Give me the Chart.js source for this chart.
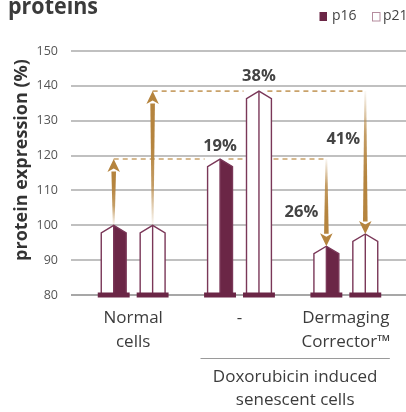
<!DOCTYPE html>
<html>
<head>
<meta charset="utf-8">
<script src="https://cdn.jsdelivr.net/npm/chart.js@4.4.1/dist/chart.umd.min.js"></script>
<style>
  html, body { margin: 0; padding: 0; background: #fff; overflow: hidden; }
  #wrap { width: 406px; height: 412px; }
</style>
</head>
<body>
<div id="wrap"><canvas id="chart" width="406" height="412"></canvas></div>
<script>
// ── Data ─────────────────────────────────────────────────────
const groups = [['Normal', 'cells'], '-', ['Dermaging', 'Corrector™']];
const seriesNames = ['p16', 'p21'];
const p16 = [100, 119, 94];
const p21 = [100, 138.5, 97.5];
const yTicks = [80, 90, 100, 110, 120, 130, 140, 150];
const changes = ['19%', '38%', '26%', '41%'];
const bracketLabel = ['Doxorubicin induced', 'senescent cells'];
const yTitle = 'protein expression (%)';
const chartTitle = 'proteins';

// ── Styles ───────────────────────────────────────────────────
const maroon = '#6b2646';
const edge = '#7a3758';
const gold = '181,132,62';
const txt = '#3c3c3c';
const FONT = '"Open Sans", sans-serif';

function barShape(ctx, x, top, base, w, filled) {
  const l = x - w / 2, r = x + w / 2, sh = top + 7.5;
  const outline = () => {
    ctx.beginPath();
    ctx.moveTo(l, base); ctx.lineTo(l, sh); ctx.lineTo(x, top);
    ctx.lineTo(r, sh); ctx.lineTo(r, base); ctx.closePath();
  };
  outline(); ctx.fillStyle = '#fff'; ctx.fill();
  if (filled) {
    ctx.beginPath();
    ctx.moveTo(x, top); ctx.lineTo(r, sh); ctx.lineTo(r, base); ctx.lineTo(x, base); ctx.closePath();
    ctx.fillStyle = maroon; ctx.fill();
  }
  ctx.strokeStyle = edge; ctx.lineWidth = 1.4;
  outline(); ctx.stroke();
  ctx.beginPath(); ctx.moveTo(x, top); ctx.lineTo(x, base); ctx.stroke();
  // foot
  ctx.fillStyle = maroon;
  ctx.fillRect(l - 3.5, base - 2.5, w + 7, 5);
}

function arrow(ctx, x, from, to) {
  const dir = to < from ? -1 : 1;
  const headH = 12.5, headW = 12.5;
  const neck = to - dir * headH;
  const g = ctx.createLinearGradient(0, from, 0, to);
  g.addColorStop(0, 'rgba(' + gold + ',0.05)');
  g.addColorStop(0.3, 'rgba(' + gold + ',0.8)');
  g.addColorStop(0.6, 'rgba(' + gold + ',1)');
  g.addColorStop(1, 'rgba(' + gold + ',1)');
  ctx.fillStyle = g;
  ctx.beginPath();
  ctx.moveTo(x - 0.9, from); ctx.lineTo(x + 0.9, from);
  ctx.lineTo(x + 2.3, neck); ctx.lineTo(x - 2.3, neck); ctx.closePath();
  ctx.fill();
  ctx.beginPath();
  ctx.moveTo(x, to);
  ctx.lineTo(x + headW / 2, neck - dir * 0.5);
  ctx.lineTo(x, neck + dir * 3);
  ctx.lineTo(x - headW / 2, neck - dir * 0.5);
  ctx.closePath();
  ctx.fillStyle = 'rgb(' + gold + ')';
  ctx.fill();
}

function dashed(ctx, x0, x1, y) {
  ctx.save();
  ctx.setLineDash([5, 4]);
  ctx.strokeStyle = '#c9a26b';
  ctx.lineWidth = 1.6;
  ctx.beginPath(); ctx.moveTo(x0, y); ctx.lineTo(x1, y); ctx.stroke();
  ctx.restore();
}

// ── Plugin: grid, shapes, annotations ────────────────────────
const decor = {
  id: 'decor',
  beforeDatasetsDraw(chart) {
    const ctx = chart.ctx, ys = chart.scales.y;
    ctx.save();
    yTicks.forEach(v => {
      const y = Math.round(ys.getPixelForValue(v));
      ctx.strokeStyle = v === yTicks[0] ? '#8a8a8a' : '#ababab';
      ctx.lineWidth = 1.4;
      ctx.beginPath(); ctx.moveTo(71, y); ctx.lineTo(406, y); ctx.stroke();
    });
    ctx.restore();
  },
  afterDatasetsDraw(chart) {
    const ctx = chart.ctx, ys = chart.scales.y, xs = chart.scales.x;
    const base = ys.getPixelForValue(ys.min);
    const bar = (d, i) => chart.getDatasetMeta(d).data[i];
    ctx.save();

    // dashed reference lines at the "-" level
    [p16, p21].forEach((vals, d) => {
      const y = ys.getPixelForValue(vals[1]);
      const b = bar(d, 1);
      dashed(ctx, bar(d, 0).x, b.x - b.width / 2 - 3, y);
      dashed(ctx, b.x + b.width / 2 - 4, bar(d, 2).x, y);
    });

    // bars
    [p16, p21].forEach((vals, d) => {
      chart.getDatasetMeta(d).data.forEach(el => {
        barShape(ctx, el.x, el.y, base, el.width, d === 0);
      });
    });

    // arrows
    [p16, p21].forEach((vals, d) => {
      arrow(ctx, bar(d, 0).x, ys.getPixelForValue(vals[0]), ys.getPixelForValue(vals[1]));
      arrow(ctx, bar(d, 2).x, ys.getPixelForValue(vals[1]), ys.getPixelForValue(vals[2]));
    });

    // percent labels
    ctx.font = 'bold 16.5px ' + FONT;
    ctx.fillStyle = '#444';
    ctx.textAlign = 'center';
    ctx.textBaseline = 'middle';
    ctx.fillText(changes[0], bar(0, 1).x, bar(0, 1).y - 13);
    ctx.fillText(changes[1], bar(1, 1).x, bar(1, 1).y - 15);
    ctx.fillText(changes[2], bar(0, 2).x - 25, bar(0, 2).y - 34);
    ctx.fillText(changes[3], bar(1, 2).x - 22, ys.getPixelForValue(p21[1]) + 48);

    // bracket under the treated groups
    const bl = xs.getPixelForValue(1) - 39, br = xs.getPixelForValue(2) + 44;
    ctx.strokeStyle = '#9a9a9a'; ctx.lineWidth = 1;
    ctx.beginPath(); ctx.moveTo(bl, 358.5); ctx.lineTo(br, 358.5); ctx.stroke();
    ctx.font = '17px ' + FONT;
    ctx.fillStyle = txt;
    bracketLabel.forEach((s, i) => ctx.fillText(s, (bl + br) / 2, 377 + i * 23.5));

    // y title
    ctx.save();
    ctx.translate(27, 160);
    ctx.rotate(-Math.PI / 2);
    ctx.font = 'bold 18px ' + FONT;
    ctx.fillStyle = '#333';
    ctx.textBaseline = 'alphabetic';
    const tw = ctx.measureText(yTitle).width;
    ctx.scale(Math.min(1, 214 / tw), 1);
    ctx.fillText(yTitle, 0, 0);
    ctx.restore();

    // title (partly above the top edge)
    ctx.save();
    ctx.font = 'bold 24px ' + FONT;
    ctx.fillStyle = '#3b3b3b';
    ctx.textAlign = 'left';
    ctx.textBaseline = 'alphabetic';
    const ttw = ctx.measureText(chartTitle).width;
    ctx.translate(8, 13.5);
    ctx.scale(90 / ttw, 1);
    ctx.fillText(chartTitle, 0, 0);
    ctx.restore();

    // legend
    ctx.font = '14px ' + FONT;
    ctx.textAlign = 'left';
    ctx.textBaseline = 'middle';
    ctx.fillStyle = maroon;
    ctx.fillRect(319.5, 12, 7.5, 9);
    ctx.fillStyle = '#444';
    ctx.fillText(seriesNames[0], 332, 16.5);
    ctx.strokeStyle = '#b58c9e'; ctx.lineWidth = 1;
    ctx.strokeRect(372.5, 12.5, 7.5, 8.5);
    ctx.fillText(seriesNames[1], 383, 16.5);

    ctx.restore();
  }
};

// ── Chart ────────────────────────────────────────────────────
new Chart(document.getElementById('chart'), {
  type: 'bar',
  data: {
    labels: groups,
    datasets: [
      { label: seriesNames[0], data: p16, backgroundColor: 'rgba(0,0,0,0)', borderWidth: 0 },
      { label: seriesNames[1], data: p21, backgroundColor: 'rgba(0,0,0,0)', borderWidth: 0 }
    ]
  },
  options: {
    responsive: false,
    animation: false,
    devicePixelRatio: 1,
    categoryPercentage: 0.732,
    barPercentage: 0.64,
    layout: { padding: { left: 0, top: 51, right: 7, bottom: 57 } },
    plugins: { legend: { display: false }, tooltip: { enabled: false } },
    scales: {
      x: {
        grid: { display: false, drawTicks: false },
        border: { display: false },
        ticks: { padding: 11, color: txt, font: { family: FONT, size: 17, lineHeight: 1.4 } },
        afterFit: s => { s.height = 60; }
      },
      y: {
        min: 80, max: 150,
        beginAtZero: false,
        grid: { display: false, drawTicks: false },
        border: { display: false },
        afterBuildTicks: s => { s.ticks = yTicks.map(v => ({ value: v })); },
        ticks: { padding: 22, color: '#555', font: { family: FONT, size: 12.5 } },
        afterFit: s => { s.width = 80; }
      }
    }
  },
  plugins: [decor]
});
</script>
</body>
</html>
